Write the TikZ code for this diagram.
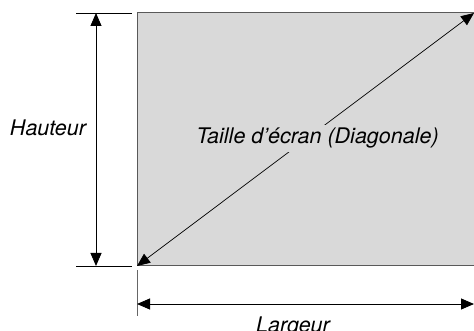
\documentclass[tikz,border=0pt]{standalone}
\usepackage{fontspec}
\setmainfont{TeX Gyre Heros}
\usetikzlibrary{arrows.meta,positioning}

\begin{document}
\begin{tikzpicture}[x=1pt,y=-1pt, >={Triangle[length=13pt,width=11pt]},
  dim/.style={<->,line width=0.9pt},
  ext/.style={line width=0.9pt},
  lbl/.style={font=\fontsize{21.5}{24}\selectfont\itshape,inner sep=0pt}]
\useasboundingbox (0,0) rectangle (474,331);
% screen
\node[draw=black!65,fill=black!15,line width=1pt,outer sep=0pt,inner sep=0pt,
  minimum width=342pt,minimum height=253pt,anchor=north west] (screen) at (137,13) {};
\coordinate (ne) at (474,13);
% extension lines
\coordinate (htl) at (76,13);
\coordinate (htr) at (132,13);
\coordinate (hbl) at (76,266);
\coordinate (hbr) at (132,266);
\coordinate (wlt) at (137,270);
\coordinate (wlb) at (137,316);
\draw[ext] (htl) -- (htr);
\draw[ext] (hbl) -- (hbr);
\draw[ext,black!60] (wlt) -- (wlb);
% dimensions
\coordinate (htop) at (96,13);
\coordinate (hbot) at (96,266);
\coordinate (wl) at (137,304);
\coordinate (wr) at (474,304);
\draw[dim] (htop) -- (hbot);
\draw[dim] (wl) -- (wr);
\draw[dim,line width=0.7pt] (screen.south west) -- (ne);
% labels
\node[lbl,anchor=base] (haut) at (48,136) {Hauteur};
\node[lbl,anchor=base] (larg) at (293,332.5) {Largeur};
\node[lbl,anchor=base,fill=black!15,inner sep=3pt] (diag) at (317.5,144) {Taille d’écran (Diagonale)};
\end{tikzpicture}
\end{document}
